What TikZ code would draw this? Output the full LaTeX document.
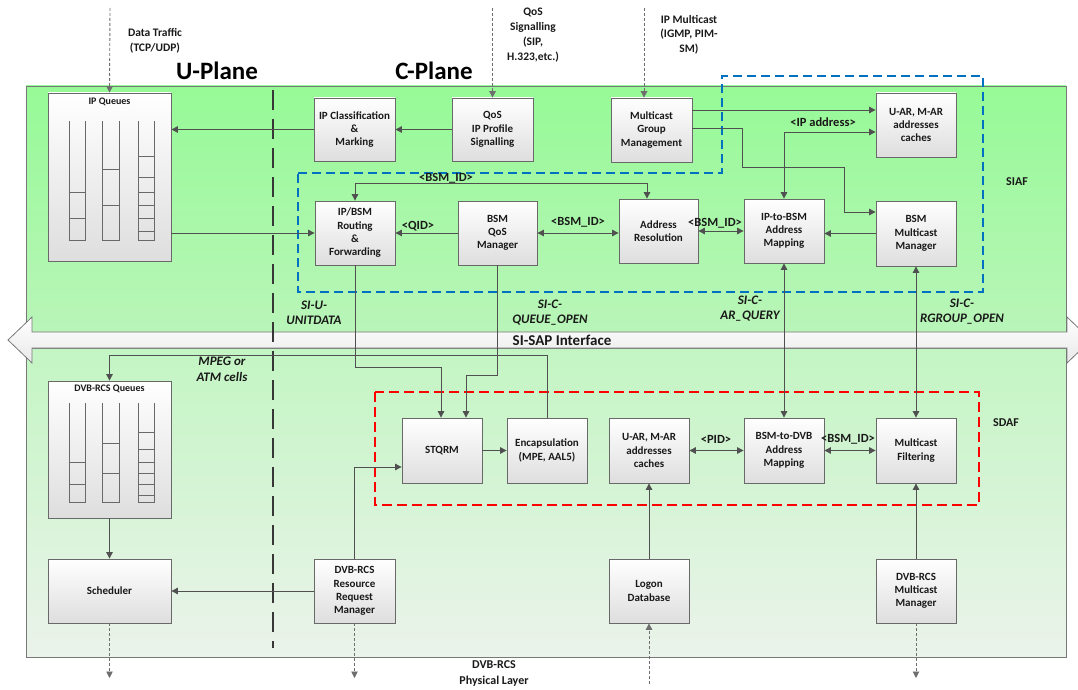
\documentclass[tikz,border=0pt]{standalone}
\usepackage{fontspec}
\setmainfont{Carlito}
\usetikzlibrary{arrows.meta}

\definecolor{upTop}{RGB}{150,250,150}
\definecolor{upBot}{RGB}{185,245,185}
\definecolor{loTop}{RGB}{195,245,195}
\definecolor{loBot}{RGB}{235,243,235}
\definecolor{panelLine}{RGB}{120,120,120}
\definecolor{boxLine}{RGB}{105,105,105}
\definecolor{boxBot}{RGB}{222,222,222}
\definecolor{wire}{RGB}{80,80,80}
\definecolor{feedClr}{RGB}{110,110,110}
\definecolor{siafBlue}{RGB}{0,112,192}
\definecolor{sdafRed}{RGB}{255,0,0}
\definecolor{sepClr}{RGB}{55,55,55}
\definecolor{txt}{RGB}{25,25,25}

% open-topped queue tube: left x, right x, top y, bottom y
\newcommand{\qtube}[4]{\draw[qline] (#1,#3) -- (#1,#4) -- (#2,#4) -- (#2,#3);}
% cell separators inside a tube at the fractions listed in \qfr
\newcommand{\qcell}[4]{\foreach \f in \qfr {\draw[qline] (#1,{#3+\f*(#4-#3)}) -- (#2,{#3+\f*(#4-#3)});}}

\begin{document}
\begin{tikzpicture}[x=1pt,y=-1pt,
  tip/.tip={Triangle[width=6.5pt,length=6.5pt]},
  blk/.style={draw=boxLine, line width=0.8pt, top color=white, bottom color=boxBot,
    align=center, inner sep=1pt, text=txt,
    font=\fontsize{11}{13.3}\selectfont\bfseries},
  wireline/.style={draw=wire, line width=0.9pt},
  conn/.style={wireline, -tip},
  biconn/.style={wireline, tip-tip},
  feed/.style={draw=feedClr, line width=0.9pt, dash pattern=on 3pt off 2pt, -tip},
  lbl/.style={text=txt, font=\fontsize{12.5}{14}\selectfont\bfseries, inner sep=0pt},
  toplbl/.style={text=txt, align=center, font=\fontsize{11.5}{15}\selectfont\bfseries, inner sep=0pt},
  ilbl/.style={text=txt, align=center, font=\fontsize{13}{15.5}\selectfont\bfseries\itshape, inner sep=0pt},
  plane/.style={text=black, font=\fontsize{25}{28}\selectfont\bfseries, inner sep=0pt},
  qtitle/.style={text=txt, font=\fontsize{10}{12}\selectfont\bfseries, inner sep=0pt},
  qline/.style={draw=boxLine, line width=0.8pt},
]
\useasboundingbox (0,0) rectangle (1078,690);

% ---------- background panels ----------
\path[draw=panelLine, line width=0.8pt, top color=upTop, bottom color=upBot]
  (26,86) rectangle (1066,332);
\path[draw=panelLine, line width=0.8pt, top color=loTop, bottom color=loBot]
  (26,348) rectangle (1066,657);

% ---------- SI-SAP interface (double arrow) ----------
\path[draw=panelLine, line width=0.8pt, top color=white, bottom color=gray!18]
  (8,340) -- (32,317) -- (32,332) -- (1067,332) -- (1067,317) -- (1091,340)
  -- (1067,363) -- (1067,348) -- (32,348) -- (32,363) -- cycle;
\node[text=txt, font=\fontsize{15}{17}\selectfont\bfseries, inner sep=0pt] (sisap) at (562,340) {SI-SAP Interface};

% ---------- function groups ----------
\draw[siafBlue, line width=2.3pt, dash pattern=on 9pt off 5pt]
  (298,173) -- (722,173) -- (722,76) -- (983,76) -- (983,292) -- (298,292) -- cycle;
\draw[sdafRed, line width=2.3pt, dash pattern=on 10pt off 5pt]
  (375,392) rectangle (979,505);
\node[lbl, font=\fontsize{12}{14}\selectfont\bfseries] (siaf) at (1017,182) {SIAF};
\node[lbl, font=\fontsize{12}{14}\selectfont\bfseries] (sdaf) at (1006,423) {SDAF};

% ---------- plane titles and external flows ----------
\node[plane] (uplane) at (217,71) {U-Plane};
\node[plane] (cplane) at (434,71) {C-Plane};
\node[toplbl] (datatr) at (155,40.5) {Data Traffic\\(TCP/UDP)};
\node[toplbl] (qossig) at (533,35.5) {QoS\\Signalling\\(SIP,\\H.323,etc.)};
\node[toplbl, font=\fontsize{11.5}{14.5}\selectfont\bfseries] (ipmc) at (689,34.5) {IP Multicast\\(IGMP, PIM-\\SM)};

% ---------- upper blocks ----------
\node[blk, minimum width=123pt, minimum height=168pt] (ipq) at (109.5,177) {};
\node[qtitle] (ipqt) at (109.5,102) {IP Queues};
\node[blk, minimum width=81pt, minimum height=63pt] (ipcm) at (354.5,129.5) {IP Classification\\\&\\Marking};
\node[blk, minimum width=81pt, minimum height=63pt] (qos) at (492.5,129.5) {QoS\\IP Profile\\Signalling};
\node[blk, minimum width=81pt, minimum height=64pt] (mgm) at (651.5,130) {Multicast\\Group\\Management};
\node[blk, minimum width=80pt, minimum height=64pt] (uar1) at (916,125) {U-AR, M-AR\\addresses\\caches};
\node[blk, minimum width=80pt, minimum height=64pt] (ipbsm) at (355,233) {IP/BSM\\Routing\\\&\\Forwarding};
\node[blk, minimum width=79pt, minimum height=64pt] (bqm) at (497.5,233) {BSM\\QoS\\Manager};
\node[blk, minimum width=79pt, minimum height=64pt] (ares) at (658.5,231) {Address\\Resolution};
\node[blk, minimum width=80pt, minimum height=64pt] (ip2bsm) at (784,231) {IP-to-BSM\\Address\\Mapping};
\node[blk, minimum width=80pt, minimum height=65pt] (bmm) at (916,233.5) {BSM\\Multicast\\Manager};

% ---------- lower blocks ----------
\node[blk, minimum width=123pt, minimum height=137pt] (dvbq) at (109.5,449.5) {};
\node[qtitle] (dvbqt) at (109.5,389) {DVB-RCS Queues};
\node[blk, minimum width=80pt, minimum height=65pt] (stqrm) at (442,450.5) {STQRM};
\node[blk, minimum width=80pt, minimum height=65pt] (encap) at (547,450.5) {Encapsulation\\(MPE, AAL5)};
\node[blk, minimum width=80pt, minimum height=65pt] (uar2) at (649,450.5) {U-AR, M-AR\\addresses\\caches};
\node[blk, minimum width=80pt, minimum height=65pt] (b2dvb) at (784,450.5) {BSM-to-DVB\\Address\\Mapping};
\node[blk, minimum width=80pt, minimum height=65pt] (mfilt) at (916,450.5) {Multicast\\Filtering};
\node[blk, minimum width=123pt, minimum height=64pt] (sched) at (109.5,591) {Scheduler};
\node[blk, minimum width=81pt, minimum height=64pt] (rrm) at (354.5,591) {DVB-RCS\\Resource\\Request\\Manager};
\node[blk, minimum width=80pt, minimum height=64pt] (logon) at (649,591) {Logon\\Database};
\node[blk, minimum width=80pt, minimum height=64pt] (dvbmm) at (916,591) {DVB-RCS\\Multicast\\Manager};

% ---------- queue tubes ----------
\foreach \ta/\tb in {121/240, 403/502}{
  \qtube{69}{85}{\ta}{\tb}
  \qtube{102}{119}{\ta}{\tb}
  \qtube{138}{154}{\ta}{\tb}
  \def\qfr{0.6,0.82}\qcell{69}{85}{\ta}{\tb}
  \def\qfr{0.41,0.71}\qcell{102}{119}{\ta}{\tb}
  \def\qfr{0.30,0.47,0.60,0.71,0.82,0.93}\qcell{138}{154}{\ta}{\tb}
}

% ---------- plane separator ----------
\draw[sepClr, line width=2.8pt, dash pattern=on 20pt off 9pt] (273,90) -- (273,648);

% ---------- external flows ----------
\coordinate (inData) at (110,8);
\coordinate (inQos) at (492.5,8);
\coordinate (inMc) at (644,8);
\coordinate (outSched) at (109.5,678);
\coordinate (outRrm) at (354.5,678);
\coordinate (inLogon) at (649,684);
\coordinate (outMm) at (916,678);
\draw[feed] (inData) -- (ipq.north);
\draw[feed] (inQos) -- (qos.north);
\draw[feed] (inMc) -- ([xshift=-7.5pt]mgm.north);
\draw[feed] (sched.south) -- (outSched);
\draw[feed] (rrm.south) -- (outRrm);
\draw[feed] (inLogon) -- (logon.south);
\draw[feed] (dvbmm.south) -- (outMm);

% ---------- upper connectors ----------
\draw[conn] (qos.west) -- (ipcm.east);
\draw[conn] (ipcm.west) -- (ipcm.west -| ipq.east);
\draw[conn] (ipq.east |- ipbsm.west) -- (ipbsm.west);
\draw[conn] (bqm.west) -- (ipbsm.east);
\draw[biconn] (bqm.east) -- (bqm.east -| ares.west);
\draw[biconn] (ares.east) -- (ares.east -| ip2bsm.west);
\draw[conn] (bmm.west) -- (bmm.west -| ip2bsm.east);
\draw[biconn] (ipbsm.north) -- ++(0,-17) -| ([xshift=-11.5pt]ares.north);
\draw[biconn] (ip2bsm.north) |- ([yshift=-7pt]uar1.west);
\draw[conn] ([yshift=20pt]mgm.east) -- ([yshift=20pt]mgm.east -| uar1.west);
\draw[conn] ([yshift=2pt]mgm.east) -- ++(50,0) -- ++(0,39) -- ++(102,0) |- ([yshift=21.5pt]bmm.west);

% ---------- connectors across the interface ----------
\draw[conn] (ipbsm.south) -- ++(0,102) -| ([xshift=-1pt]stqrm.north);
\draw[conn] (bqm.south) -- ++(0,110) -| ([xshift=24pt]stqrm.north);
\draw[conn] (encap.north) -- ++(0,-62) -| (dvbq.north);
\draw[biconn] (ip2bsm.south) -- (b2dvb.north);
\draw[biconn] (bmm.south) -- (mfilt.north);

% ---------- lower connectors ----------
\draw[conn] (stqrm.east) -- (encap.west);
\draw[biconn] (uar2.east) -- (b2dvb.west);
\draw[biconn] (b2dvb.east) -- (mfilt.west);
\draw[conn] (rrm.north) |- ([yshift=-16.5pt]stqrm.west);
\draw[conn] (rrm.west) -- (sched.east);
\draw[conn] (dvbq.south) -- (sched.north);
\draw[conn] (logon.north) -- (uar2.south);
\draw[conn] (dvbmm.north) -- (mfilt.south);

% ---------- connector labels ----------
\node[lbl] (lipaddr) at (823,122) {<IP address>};
\node[lbl] (lbsmtop) at (446,178) {<BSM\_ID>};
\node[lbl] (lqid) at (418,226) {<QID>};
\node[lbl] (lbsm1) at (578,222) {<BSM\_ID>};
\node[lbl] (lbsm2) at (715,223) {<BSM\_ID>};
\node[lbl] (lpid) at (716,439) {<PID>};
\node[lbl] (lbsm3) at (848,439) {<BSM\_ID>};
\node[ilbl] (lunit) at (314,313) {SI-U-\\UNITDATA};
\node[ilbl] (lqopen) at (550,312.5) {SI-C-\\QUEUE\_OPEN};
\node[ilbl] (larq) at (750,308.5) {SI-C-\\AR\_QUERY};
\node[ilbl] (lrgrp) at (962,311.5) {SI-C-\\RGROUP\_OPEN};
\node[ilbl] (lmpeg) at (222,369.5) {MPEG or\\ATM cells};
\node[toplbl, font=\fontsize{12}{17}\selectfont\bfseries] (lphy) at (494,673.5) {DVB-RCS\\Physical Layer};
\end{tikzpicture}
\end{document}
